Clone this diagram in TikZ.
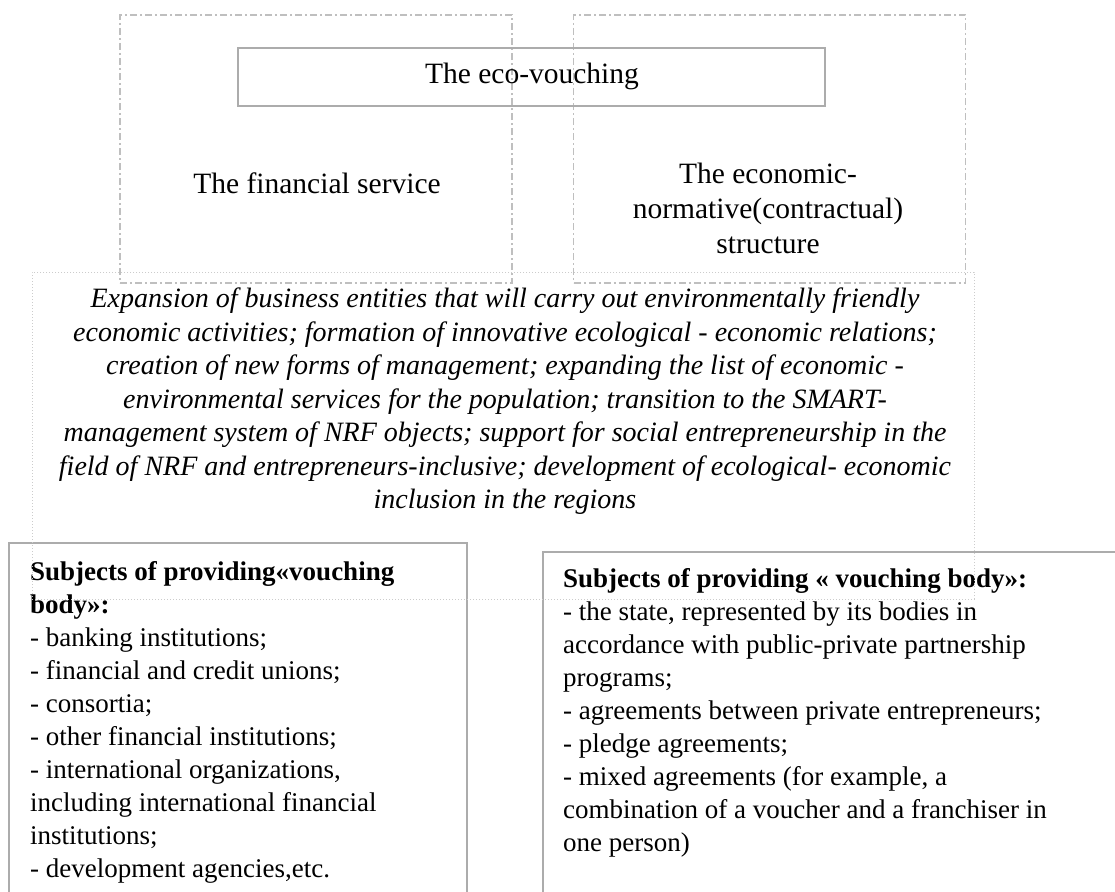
\documentclass[tikz,border=0pt]{standalone}
\usepackage{fontspec}
\setmainfont{Liberation Serif}
\usetikzlibrary{positioning}

\begin{document}
\begin{tikzpicture}[x=1pt,y=-1pt,inner sep=0pt,
		dashbox/.style={draw=gray!50,line width=1.5pt,dash pattern=on 7pt off 3pt on 2pt off 3pt,minimum width=392pt,minimum height=268pt},
		dotbox/.style={draw=gray!40,line width=1pt,dash pattern=on 1pt off 2pt,minimum width=942pt,minimum height=327pt},
		greybox/.style={draw=gray!65,line width=2pt},
		toptext/.style={font=\fontsize{29.5}{35}\selectfont,align=center},
		midtext/.style={font=\fontsize{28}{33.5}\selectfont\itshape,align=center},
		listtext/.style={font=\fontsize{27}{33}\selectfont,align=left,anchor=north west}]
	\useasboundingbox (0,0) rectangle (1115,891);
	\clip (0,0) rectangle (1115,891);
	% upper frames
	\node[dashbox] (b_fin) at (316,149) {};
	\node[dashbox] [right=60pt of b_fin] (b_str) {};
	\node[greybox,minimum width=587pt,minimum height=58pt] (b_eco) at (531.5,77) {};
	\node[toptext,anchor=base] (t_eco) at (532,83) {The eco-vouching};
	\node[toptext,anchor=base] (t_fin) at (317,193) {The financial service};
	\node[toptext,anchor=north] (t_str) at (768,163) {The economic-\\normative(contractual)\\structure};
	% lower frames
	\draw[greybox] (9,900) -- (9,543) -- (467,543) -- (467,900);
	\draw[greybox] (543,900) -- (543,552) -- (1120,552);
	\node[listtext] (t_left) at (30,561) {\textbf{Subjects of providing«vouching}\\\textbf{body»:}\\
		- banking institutions;\\
		- financial and credit unions;\\
		- consortia;\\
		- other financial institutions;\\
		- international organizations,\\
		including international financial\\
		institutions;\\
		- development agencies,etc.};
	\node[listtext] (t_right) at (563,568) {\textbf{Subjects of providing « vouching body»:}\\
		- the state, represented by its bodies in\\
		accordance with public-private partnership\\
		programs;\\
		- agreements between private entrepreneurs;\\
		- pledge agreements;\\
		- mixed agreements (for example, a\\
		combination of a voucher and a franchiser in\\
		one person)};
	% middle frame
	\node[dotbox] (b_mid) at (503,435.5) {};
	\node[midtext,anchor=north] (t_mid) at (505,288) {Expansion of business entities that will carry out environmentally friendly\\
		economic activities; formation of innovative ecological - economic relations;\\
		creation of new forms of management; expanding the list of economic -\\
		environmental services for the population; transition to the SMART-\\
		management system of NRF objects; support for social entrepreneurship in the\\
		field of NRF and entrepreneurs-inclusive; development of ecological- economic\\
		inclusion in the regions};
\end{tikzpicture}
\end{document}
